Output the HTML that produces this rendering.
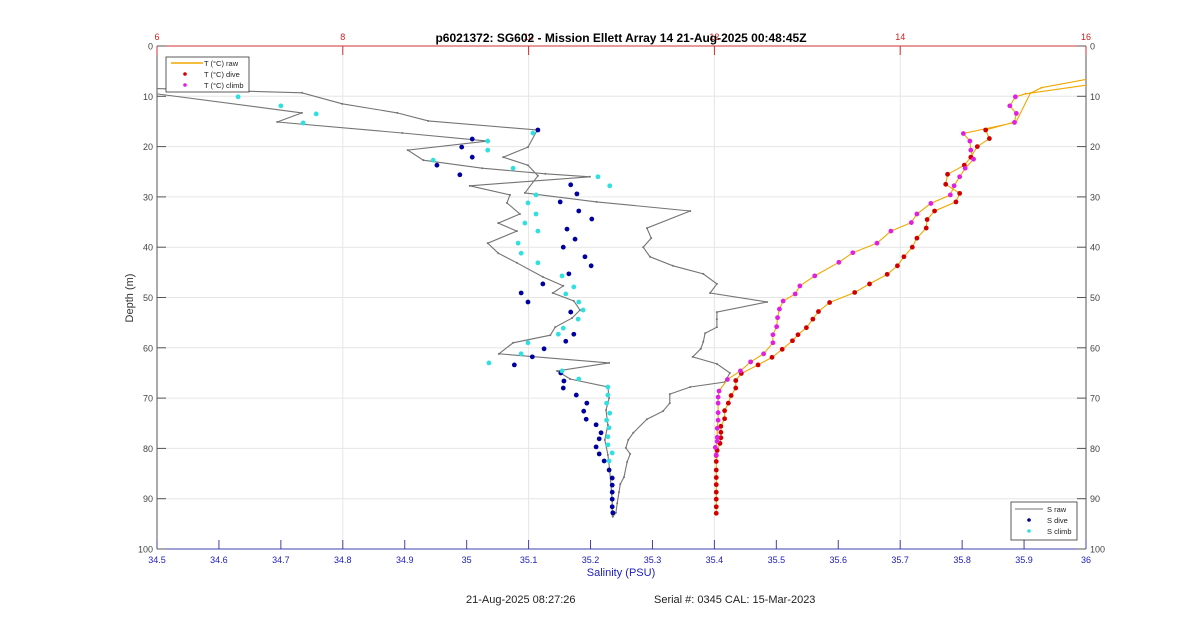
<!DOCTYPE html>
<html><head><meta charset="utf-8"><style>
html,body{margin:0;padding:0;background:#fff;}
svg{display:block;font-family:"Liberation Sans",sans-serif;}
</style></head><body>
<svg id="chart" width="1200" height="617" viewBox="0 0 1200 617" xmlns="http://www.w3.org/2000/svg">
<rect x="0" y="0" width="1200" height="617" fill="#fff"/>
<g id="grid"></g>
<g id="axes"></g>
<g id="marks"></g>
<text x="621" y="42" text-anchor="middle" font-size="12" font-weight="bold" fill="#000">p6021372: SG602 - Mission Ellett Array 14 21-Aug-2025 00:48:45Z</text>
<text x="621" y="576" text-anchor="middle" font-size="11" fill="#2020c0">Salinity (PSU)</text>
<text x="133" y="298" text-anchor="middle" font-size="11" fill="#333" transform="rotate(-90 133 298)">Depth (m)</text>
<text x="466" y="603" font-size="11" fill="#222">21-Aug-2025 08:27:26</text>
<text x="654" y="603" font-size="11" fill="#222">Serial #: 0345  CAL: 15-Mar-2023</text>
<g>
<rect x="166" y="57" width="83" height="35" fill="#fff" stroke="#333" stroke-width="0.8"/>
<line x1="171" y1="63" x2="203" y2="63" stroke="#f0a800" stroke-width="1.5"/>
<text x="204" y="66" font-size="7.5" fill="#222">T (°C) raw</text>
<circle cx="185" cy="74" r="1.8" fill="#d00000"/>
<text x="204" y="77" font-size="7.5" fill="#222">T (°C) dive</text>
<circle cx="185" cy="85" r="1.8" fill="#e020e0"/>
<text x="204" y="88" font-size="7.5" fill="#222">T (°C) climb</text>
</g>
<g>
<rect x="1011" y="502" width="66" height="38" fill="#fff" stroke="#333" stroke-width="0.8"/>
<line x1="1015" y1="509" x2="1043" y2="509" stroke="#707070" stroke-width="1"/>
<text x="1047" y="512" font-size="7.5" fill="#222">S raw</text>
<circle cx="1029" cy="520" r="1.8" fill="#00008b"/>
<text x="1047" y="523" font-size="7.5" fill="#222">S dive</text>
<circle cx="1029" cy="531" r="1.8" fill="#30e0e0"/>
<text x="1047" y="534" font-size="7.5" fill="#222">S climb</text>
</g>
</svg>
<script>
// ---- data ----
const sTicks = [34.5,34.6,34.7,34.8,34.9,35,35.1,35.2,35.3,35.4,35.5,35.6,35.7,35.8,35.9,36];
const tTicks = [6,8,10,12,14,16];
const dTicks = [0,10,20,30,40,50,60,70,80,90,100];

const tDiveDepth = [16.7,18.4,20.0,22.1,23.7,25.5,27.5,29.3,31.0,32.8,34.5,36.2,38.2,40.0,41.9,43.7,45.4,47.3,49.0,51.0,52.8,54.3,56.0,57.4,58.6,60.3,61.9,63.4,65.1,66.5,68.0,69.5,71.0,72.5,74.1,75.6,76.8,77.9,79.0,80.4,81.4,82.6,84.3,85.8,87.2,88.7,90.1,91.6,92.9];
const tDiveVal = [14.92,14.96,14.83,14.76,14.69,14.51,14.49,14.64,14.60,14.37,14.29,14.28,14.18,14.13,14.04,13.97,13.86,13.67,13.51,13.24,13.12,13.06,12.99,12.90,12.84,12.73,12.62,12.47,12.29,12.23,12.23,12.18,12.15,12.11,12.11,12.07,12.07,12.07,12.06,12.03,12.02,12.02,12.02,12.02,12.02,12.02,12.02,12.02,12.02];
const tClimbDepth = [10.1,11.9,13.4,15.2,17.4,18.9,20.7,22.5,24.3,26.0,27.8,29.6,31.3,33.4,35.1,36.8,39.2,41.1,43.0,45.7,47.7,49.3,50.7,52.3,54.0,55.8,57.4,59.0,61.2,62.8,64.6,66.3,68.6,69.8,71.0,72.9,74.4,76.0,77.8,78.6,79.8,81.3];
const tClimbVal = [15.24,15.18,15.25,15.23,14.68,14.75,14.76,14.79,14.70,14.64,14.58,14.54,14.33,14.18,14.12,13.90,13.75,13.49,13.34,13.08,12.92,12.87,12.74,12.70,12.68,12.67,12.63,12.63,12.53,12.39,12.28,12.14,12.05,12.04,12.04,12.04,12.04,12.03,12.03,12.03,12.01,12.02];
const tRawTopDepth = [5.6,8.3,9.4,15.0];
const tRawTopVal = [16.3,15.52,15.40,15.25];
const tRawEndDepth = [9.5,7.8,7.4];
const tRawEndVal = [15.35,16.0,16.3];

const sRawDiveDepth = [8.3,9.3,11.5,13.3,14.9,16.7,20.1,22.1,23.7,25.8,29.2,31.0,32.8,36.2,38.2,40.0,41.9,43.7,45.3,47.3,49.1,50.9,52.9,54.3,55.9,57.1,58.8,60.2,61.8,63.2,65.0,66.8,67.8,69.2,71.0,72.6,74.2,76.9,78.3,79.9,81.1,82.7,85.7,87.1,88.7,90.9,92.8,93.6];
const sRawDiveVal = [34.45,34.734,34.799,34.888,34.938,35.114,35.099,35.059,35.099,35.115,35.094,35.210,35.361,35.291,35.298,35.285,35.296,35.333,35.382,35.404,35.393,35.485,35.404,35.404,35.404,35.385,35.382,35.378,35.365,35.404,35.425,35.417,35.361,35.328,35.328,35.317,35.291,35.269,35.261,35.257,35.264,35.259,35.254,35.248,35.246,35.243,35.241,35.236];
const sRawClimbDepth = [93.2,90.3,84.3,81.3,78.3,75.3,72.4,70.0,67.8,66.2,64.6,63.0,61.2,59.0,57.5,55.9,54.1,52.5,50.7,49.1,47.7,45.9,43.1,41.2,39.2,36.8,35.2,33.4,31.2,29.6,27.8,26.0,25.4,24.3,22.7,20.7,18.9,17.3,15.1,13.3,8.7];
const sRawClimbVal = [35.235,35.235,35.231,35.228,35.223,35.228,35.225,35.230,35.228,35.167,35.146,35.230,35.052,35.075,35.135,35.143,35.170,35.183,35.173,35.139,35.156,35.123,35.081,35.051,35.034,35.081,35.051,35.086,35.065,35.070,35.005,35.199,35.127,35.025,34.930,34.905,35.034,34.896,34.694,34.734,34.45];

const sDiveDepth = [16.7,18.5,20.1,22.1,23.7,25.6,27.6,29.4,31.0,32.8,34.4,36.4,38.4,40.0,41.9,43.7,45.3,47.3,49.1,50.9,52.9,57.3,58.7,60.2,61.8,63.4,65.0,66.6,68.0,69.4,71.0,72.6,74.2,75.3,76.9,78.1,79.7,81.1,82.5,84.3,85.9,87.3,88.7,90.1,91.6,92.8];
const sDiveVal = [35.115,35.009,34.992,35.009,34.952,34.989,35.168,35.178,35.151,35.181,35.202,35.162,35.175,35.156,35.191,35.201,35.165,35.123,35.088,35.099,35.168,35.173,35.160,35.125,35.106,35.077,35.152,35.157,35.156,35.177,35.194,35.189,35.193,35.209,35.217,35.214,35.209,35.214,35.222,35.230,35.235,35.235,35.235,35.235,35.235,35.236];
const sClimbDepth = [10.1,11.9,13.5,15.3,17.3,18.9,20.7,22.7,24.3,26.0,27.8,29.6,31.2,33.4,35.2,36.8,39.2,41.2,43.1,45.7,47.9,49.3,50.9,52.5,54.3,56.1,57.3,59.0,61.2,63.0,64.6,66.2,67.8,69.4,71.0,73.0,74.4,75.9,77.7,79.3,80.9,82.5];
const sClimbVal = [34.631,34.700,34.757,34.736,35.107,35.034,35.034,34.946,35.075,35.212,35.231,35.112,35.099,35.112,35.094,35.115,35.083,35.088,35.115,35.154,35.173,35.160,35.181,35.188,35.180,35.156,35.148,35.099,35.088,35.036,35.154,35.181,35.228,35.228,35.226,35.231,35.226,35.230,35.228,35.228,35.235,35.230];

// ---- axes ----
const L=157,R=1086,T=46,B=549;
const xS = s => L + (s-34.5)/(36-34.5)*(R-L);
const xT = t => L + (t-6)/(16-6)*(R-L);
const yD = d => T + d/100*(B-T);
const NS='http://www.w3.org/2000/svg';
function mk(tag, attrs, parent){const e=document.createElementNS(NS,tag);for(const k in attrs)e.setAttribute(k,attrs[k]);parent.appendChild(e);return e;}
const grid=document.getElementById('grid'), axes=document.getElementById('axes'), marks=document.getElementById('marks');

mk('rect',{x:L,y:T,width:R-L,height:B-T,fill:'#fff'},grid);
dTicks.forEach(d=>{ if(d>0&&d<100){const g=mk('line',{x1:L,x2:R,y1:yD(d),y2:yD(d),stroke:'#e6e6e6','stroke-width':1},grid);

}});
tTicks.forEach(t=>{ if(t>6&&t<16){const g=mk('line',{x1:xT(t),x2:xT(t),y1:T,y2:B,stroke:'#e6e6e6','stroke-width':1},grid);

}});

let a;
a=mk('line',{x1:L,x2:R,y1:B,y2:B,stroke:'#4040b0','stroke-width':1},axes);


a=mk('line',{x1:L,x2:R,y1:T,y2:T,stroke:'#d03030','stroke-width':1},axes);


a=mk('line',{x1:L,x2:L,y1:T,y2:B,stroke:'#555','stroke-width':1},axes);


a=mk('line',{x1:R,x2:R,y1:T,y2:B,stroke:'#555','stroke-width':1},axes);



sTicks.forEach(s=>{
  mk('line',{x1:xS(s),x2:xS(s),y1:B,y2:B-9,stroke:'#4040b0','stroke-width':1},axes);
  const t=mk('text',{x:xS(s),y:B+14,'text-anchor':'middle','font-size':9,fill:'#2020c0'},axes);
  t.textContent=String(s);
  
  
});
tTicks.forEach(v=>{
  mk('line',{x1:xT(v),x2:xT(v),y1:T,y2:T+9,stroke:'#d03030','stroke-width':1},axes);
  const t=mk('text',{x:xT(v),y:T-6,'text-anchor':'middle','font-size':9,fill:'#d02020'},axes);
  t.textContent=String(v);
  
  
});
dTicks.forEach(d=>{
  mk('line',{x1:L,x2:L+9,y1:yD(d),y2:yD(d),stroke:'#555','stroke-width':1},axes);
  mk('line',{x1:R,x2:R-9,y1:yD(d),y2:yD(d),stroke:'#555','stroke-width':1},axes);
  const t=mk('text',{x:L-4,y:yD(d)+3.5,'text-anchor':'end','font-size':9,fill:'#444'},axes);
  t.textContent=String(d);
  
  
  const t2=mk('text',{x:R+4,y:yD(d)+3.5,'text-anchor':'start','font-size':9,fill:'#444'},axes);
  t2.textContent=String(d);
  
  
});

const defs=mk('defs',{},marks);
const cp=mk('clipPath',{id:'plotclip'},defs);
mk('rect',{x:L,y:T,width:R-L,height:B-T},cp);
const mg=mk('g',{'clip-path':'url(#plotclip)'},marks);

function poly(vals, depths, xf, color, name){
  const pts=vals.map((v,i)=>xf(v).toFixed(1)+','+yD(depths[i]).toFixed(1)).join(' ');
  const p=mk('polyline',{points:pts,fill:'none',stroke:color,'stroke-width':1.1},mg);
  
  
  vals.forEach((v,i)=>{mk('circle',{cx:xf(v),cy:yD(depths[i]),r:1,fill:color},mg);});
}
function dots(vals, depths, xf, color, name){
  vals.forEach((v,i)=>{
    const c=mk('circle',{cx:xf(v),cy:yD(depths[i]),r:2.4,fill:color},mg);
    
    
  });
}
poly(sRawDiveVal.concat(sRawClimbVal), sRawDiveDepth.concat(sRawClimbDepth), xS, '#747474', 's-raw-line');
const tRawVal = tRawTopVal.concat(tDiveVal, tClimbVal.slice().reverse(), tRawEndVal);
const tRawDepth = tRawTopDepth.concat(tDiveDepth, tClimbDepth.slice().reverse(), tRawEndDepth);
poly(tRawVal, tRawDepth, xT, '#f0a800', 't-raw-line');
dots(sDiveVal, sDiveDepth, xS, '#0000a0', 's-dive-point');
dots(sClimbVal, sClimbDepth, xS, '#30e0e0', 's-climb-point');
dots(tDiveVal, tDiveDepth, xT, '#d00000', 't-dive-point');
dots(tClimbVal, tClimbDepth, xT, '#e020e0', 't-climb-point');
</script>
</body></html>
